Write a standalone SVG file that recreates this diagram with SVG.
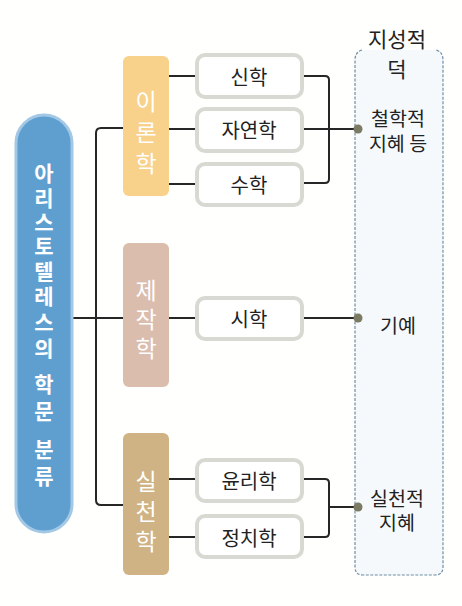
<svg xmlns="http://www.w3.org/2000/svg" width="462" height="606" viewBox="0 0 462 606">
<style>
.t{font-family:"Noto Sans CJK KR","Noto Sans",sans-serif;}
.pill{font-size:21px;font-weight:bold;fill:#ffffff;text-anchor:middle;dominant-baseline:central;}
.cat{font-size:23px;fill:#ffffff;text-anchor:middle;dominant-baseline:central;}
.box{fill:#ffffff;stroke:#d9d9d3;stroke-width:4;}
.bt{font-size:20px;fill:#222;text-anchor:middle;dominant-baseline:central;}
.rt{font-size:19.5px;fill:#222;text-anchor:middle;dominant-baseline:central;}
.hd{font-size:21px;}
.ln{fill:none;stroke:#262626;stroke-width:2;}
.dot{fill:#7b7a62;}
</style>
<rect width="462" height="606" fill="#fffffd"/>
<g id="panel">
<path d="M362 50 Q355 52 355 60 V567 Q355 575 363 575 H435 Q443 575 443 567 V60 Q443 52 436 50" fill="#f5f9fb" stroke="#6e8ea6" stroke-width="1.2" stroke-dasharray="3 1.5"/>
<text class="t rt hd" x="397" y="38">지성적</text>
<text class="t rt hd" x="397" y="68">덕</text>
<text class="t rt" x="398" y="117">철학적</text>
<text class="t rt" x="398" y="142">지혜 등</text>
<text class="t rt" x="398" y="324">기예</text>
<text class="t rt" x="397" y="497">실천적</text>
<text class="t rt" x="397" y="521">지혜</text>
</g>
<g id="connectors">
<path class="ln" d="M72 318 H123"/>
<path class="ln" d="M123 128 H101 Q96 128 96 133 V500 Q96 505 101 505 H123"/>
<path class="ln" d="M169 76 H195 M169 129 H195 M169 184 H195 M169 318 H195 M169 479 H195 M169 537 H195"/>
<path class="ln" d="M303 76 H325 Q329 76 329 80 V179 Q329 183 325 183 H303"/>
<path class="ln" d="M303 129 H356"/>
<path class="ln" d="M303 318 H356"/>
<path class="ln" d="M303 479 H325 Q329 479 329 483 V533 Q329 537 325 537 H303"/>
<path class="ln" d="M329 507 H356"/>
<circle class="dot" cx="358" cy="129" r="4.5"/>
<circle class="dot" cx="358" cy="318" r="4.5"/>
<circle class="dot" cx="358" cy="507" r="4.5"/>
</g>
<g id="root">
<rect x="16" y="115" width="56" height="417" rx="28" fill="#5f9fd0" stroke="#a2c8e6" stroke-width="3"/>
<text class="t pill" x="44" y="172">아</text>
<text class="t pill" x="44" y="197">리</text>
<text class="t pill" x="44" y="221">스</text>
<text class="t pill" x="44" y="245">토</text>
<text class="t pill" x="44" y="270">텔</text>
<text class="t pill" x="44" y="295">레</text>
<text class="t pill" x="44" y="321">스</text>
<text class="t pill" x="44" y="347">의</text>
<text class="t pill" x="44" y="383">학</text>
<text class="t pill" x="44" y="410">문</text>
<text class="t pill" x="44" y="448">분</text>
<text class="t pill" x="44" y="475">류</text>
</g>
<g id="theory">
<rect x="123" y="56" width="46" height="140" rx="6" fill="#f8d18b"/>
<text class="t cat" x="146" y="100">이</text>
<text class="t cat" x="146" y="131">론</text>
<text class="t cat" x="146" y="162">학</text>
</g>
<g id="production">
<rect x="123" y="243" width="46" height="144" rx="6" fill="#dbbdae"/>
<text class="t cat" x="146" y="289">제</text>
<text class="t cat" x="146" y="318">작</text>
<text class="t cat" x="146" y="347">학</text>
</g>
<g id="practice">
<rect x="123" y="433" width="46" height="142" rx="6" fill="#cfb385"/>
<text class="t cat" x="146" y="480">실</text>
<text class="t cat" x="146" y="510">천</text>
<text class="t cat" x="146" y="540">학</text>
</g>
<g id="theology"><rect class="box" x="197" y="55" width="105" height="42" rx="8"/><text class="t bt" x="249" y="76">신학</text></g>
<g id="physics"><rect class="box" x="197" y="109" width="105" height="42" rx="8"/><text class="t bt" x="249" y="129">자연학</text></g>
<g id="math"><rect class="box" x="197" y="164" width="105" height="41" rx="8"/><text class="t bt" x="249" y="184">수학</text></g>
<g id="poetics"><rect class="box" x="197" y="298" width="105" height="41" rx="8"/><text class="t bt" x="249" y="318">시학</text></g>
<g id="ethics"><rect class="box" x="197" y="460" width="105" height="41" rx="8"/><text class="t bt" x="249" y="480">윤리학</text></g>
<g id="politics"><rect class="box" x="197" y="516" width="105" height="41" rx="8"/><text class="t bt" x="249" y="537">정치학</text></g>
</svg>
